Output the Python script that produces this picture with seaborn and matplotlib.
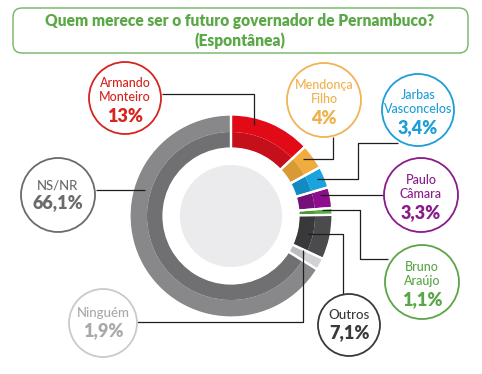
import matplotlib
matplotlib.use("Agg")
import matplotlib.pyplot as plt
import seaborn as sns
from matplotlib.patches import Circle, FancyBboxPatch

# ---- data ----
categories = ["Armando Monteiro", "Mendonça Filho", "Jarbas Vasconcelos", "Paulo Câmara",
              "Bruno Araújo", "Outros", "Ninguém", "NS/NR"]
values = [13, 4, 3.4, 3.3, 1.1, 7.1, 1.9, 66.1]
name_lines = [["Armando", "Monteiro"], ["Mendonça", "Filho"], ["Jarbas", "Vasconcelos"],
              ["Paulo", "Câmara"], ["Bruno", "Araújo"], ["Outros"], ["Ninguém"], ["NS/NR"]]
pct_labels = ["13%", "4%", "3,4%", "3,3%", "1,1%", "7,1%", "1,9%", "66,1%"]
title_lines = ["Quem merece ser o futuro governador de Pernambuco?", "(Espontânea)"]

# ---- styles ----
outer_colors = ["#e20a16", "#f0ad3d", "#1aa3dd", "#8e0f8d", "#5bad43", "#4b4a4c", "#d2d2d6", "#88888b"]
inner_colors = ["#c50f1b", "#d99a33", "#138bc2", "#75107a", "#4b9a39", "#39383a", "#bdbdc1", "#707073"]
text_colors = ["#d7241f", "#f0b04c", "#1d9ed8", "#8a1b8a", "#5aa547", "#3a3a3a", "#a9a9ac", "#6b6b6d"]
border_colors = ["#d7241f", "#f0b456", "#1d9ed8", "#8a1b8a", "#5aa547", "#3a3a3a", "#cacacc", "#6b6b6d"]

# ---- layout (pixel coords, y down) ----
W, H = 482, 374
cx, cy = 231, 216
R_out, R_mid, R_in, R_disk = 101, 84, 68, 51
label_centers = [(125, 98), (324, 100), (418, 110), (421, 195), (422, 282),
                 (349, 325), (103, 323), (58, 195)]
label_radii = [36, 37, 36, 37, 37, 31, 34, 37]
leaders = [
    [(162, 94), (254, 94), (254, 125)],
    [(333, 137), (333, 159), (303, 159)],
    [(398, 143), (358, 143), (358, 179), (317, 179)],
    [(384, 195), (320, 195)],
    [(388, 259), (360, 259), (360, 210), (322, 210)],
    [(343, 295), (343, 234), (308, 234)],
    [(137, 322), (303, 322), (303, 250)],
    [(96, 190), (145, 190)],
]

sns.set_style("white")
plt.rcParams["font.family"] = ["Lato", "DejaVu Sans"]


def Y(py):
    return H - py


fig = plt.figure(figsize=(W / 100, H / 100), dpi=100)
ax = fig.add_axes([0, 0, 1, 1])

center = (cx, Y(cy))
# outer band
ax.pie(values, colors=outer_colors, startangle=90, counterclock=False, center=center,
       radius=R_out, wedgeprops=dict(width=R_out - R_mid, linewidth=0), frame=False)
# inner band
ax.pie(values, colors=inner_colors, startangle=90, counterclock=False, center=center,
       radius=R_mid, wedgeprops=dict(width=R_mid - R_in, linewidth=0), frame=False)
# white separators
ax.pie(values, colors=["none"] * len(values), startangle=90, counterclock=False, center=center,
       radius=R_out + 0.5, wedgeprops=dict(width=R_out - R_in + 1, linewidth=1.6,
                                          edgecolor="white", facecolor="none"), frame=False)
ax.add_patch(Circle(center, R_disk, facecolor="#ebebed", edgecolor="none", zorder=2))

# leader lines
for path in leaders:
    xs = [p[0] for p in path]
    ys = [Y(p[1]) for p in path]
    ax.plot(xs, ys, color="#1e1e1e", lw=0.9, zorder=3, solid_capstyle="butt")

# label circles
for i, (lc, lr) in enumerate(zip(label_centers, label_radii)):
    x0, y0 = lc
    ax.add_patch(Circle((x0, Y(y0)), lr, facecolor="white", edgecolor=border_colors[i],
                        lw=1.3, zorder=4))
    lines = name_lines[i]
    if len(lines) == 2:
        ax.text(x0, Y(y0 - 15), lines[0], ha="center", va="center", fontsize=9,
                fontweight="medium", color=text_colors[i], zorder=5)
        ax.text(x0, Y(y0 - 1), lines[1], ha="center", va="center", fontsize=9,
                fontweight="medium", color=text_colors[i], zorder=5)
        ax.text(x0, Y(y0 + 18), pct_labels[i], ha="center", va="center", fontsize=13,
                fontweight="heavy", color=text_colors[i], zorder=5)
    else:
        ax.text(x0, Y(y0 - 10), lines[0], ha="center", va="center", fontsize=9.5,
                fontweight="medium", color=text_colors[i], zorder=5)
        ax.text(x0, Y(y0 + 8), pct_labels[i], ha="center", va="center", fontsize=13,
                fontweight="heavy", color=text_colors[i], zorder=5)

# title box
ax.add_patch(FancyBboxPatch((13, Y(53)), 455, 45, boxstyle="round,pad=0,rounding_size=9",
                            facecolor="white", edgecolor="#72b561", lw=1.0, zorder=4))
ax.text(240, Y(21), title_lines[0], ha="center", va="center", fontsize=11.2,
        fontweight="heavy", color="#5aa846", zorder=5)
ax.text(240, Y(41), title_lines[1], ha="center", va="center", fontsize=11.2,
        fontweight="heavy", color="#5aa846", zorder=5)

ax.set_xlim(0, W)
ax.set_ylim(0, H)
ax.set_aspect("equal")
ax.axis("off")

fig.savefig("out.png", dpi=100, facecolor="white")
